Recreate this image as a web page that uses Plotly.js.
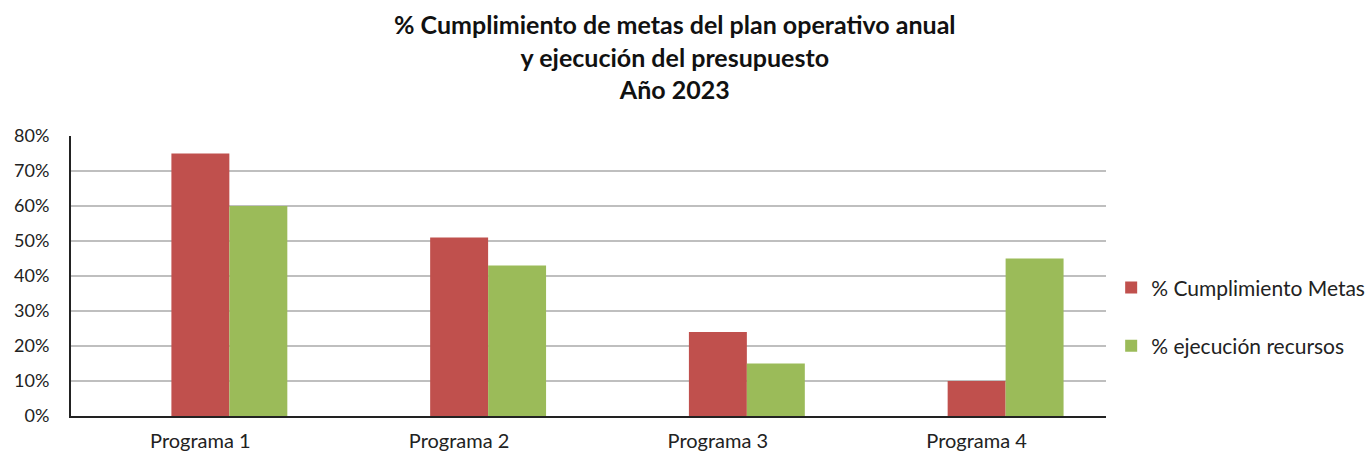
<!DOCTYPE html>
<html>
<head>
<meta charset="utf-8">
<script src="https://cdn.plot.ly/plotly-3.0.1.min.js"></script>
<style>html,body{margin:0;padding:0;background:#fff;}#chart{width:1366px;height:457px;}</style>
</head>
<body>
<div id="chart"></div>
<script>
const categories = ["Programa 1", "Programa 2", "Programa 3", "Programa 4"];
const cumplimientoMetas = [0.75, 0.51, 0.24, 0.10];
const ejecucionRecursos = [0.60, 0.43, 0.15, 0.45];
const seriesNames = ["% Cumplimiento Metas", "% ejecución recursos"];
const yTickVals = [0, 0.1, 0.2, 0.3, 0.4, 0.5, 0.6, 0.7, 0.8];
const yTickText = ["0%", "10%", "20%", "30%", "40%", "50%", "60%", "70%", "80%"];

const font = "Lato, 'Open Sans', sans-serif";
const barW = 0.224;

const traces = [
  {type: "bar", x: categories, y: cumplimientoMetas, name: seriesNames[0],
   marker: {color: "#c0504d"}, width: barW, offset: -0.112, legendgroup: "a", hoverinfo: "y"},
  {type: "bar", x: categories, y: ejecucionRecursos, name: seriesNames[1],
   marker: {color: "#9bbb59"}, width: barW, offset: 0.112, legendgroup: "b", hoverinfo: "y"}
];

const layout = {
  width: 1366, height: 457,
  margin: {l: 71, r: 260, t: 136, b: 41, autoexpand: false},
  paper_bgcolor: "#fff", plot_bgcolor: "#fff",
  font: {family: font, color: "#222", size: 15},
  title: {
    text: "<b>% Cumplimiento de metas del plan operativo anual<br>y ejecución del presupuesto<br>Año 2023</b>",
    font: {family: font, size: 25, color: "#111"},
    x: 0.494, xanchor: "center", xref: "container",
    y: 0.925, yanchor: "middle", yref: "container"
  },
  barmode: "overlay",
  xaxis: {
    type: "category", range: [-0.5, 3.5],
    showline: true, linecolor: "#222", linewidth: 2,
    ticks: "", showgrid: false, zeroline: false, ticklabelstandoff: 6,
    tickfont: {family: font, size: 20, color: "#222"}
  },
  yaxis: {
    range: [0, 0.8], tickvals: yTickVals, ticktext: yTickText,
    showline: true, linecolor: "#222", linewidth: 2,
    showgrid: true, gridcolor: "#bfbfbf", gridwidth: 1.5,
    zeroline: false, ticks: "", ticklabelstandoff: 16,
    tickfont: {family: font, size: 18, color: "#222"}
  },
  legend: {
    x: 1.005, xanchor: "left", y: 0.354, yanchor: "middle",
    font: {family: font, size: 21, color: "#222"},
    tracegroupgap: 28, itemwidth: 30,
    bgcolor: "rgba(0,0,0,0)"
  },
  showlegend: true
};

Plotly.newPlot("chart", traces, layout, {displayModeBar: false, staticPlot: true});
</script>
</body>
</html>
